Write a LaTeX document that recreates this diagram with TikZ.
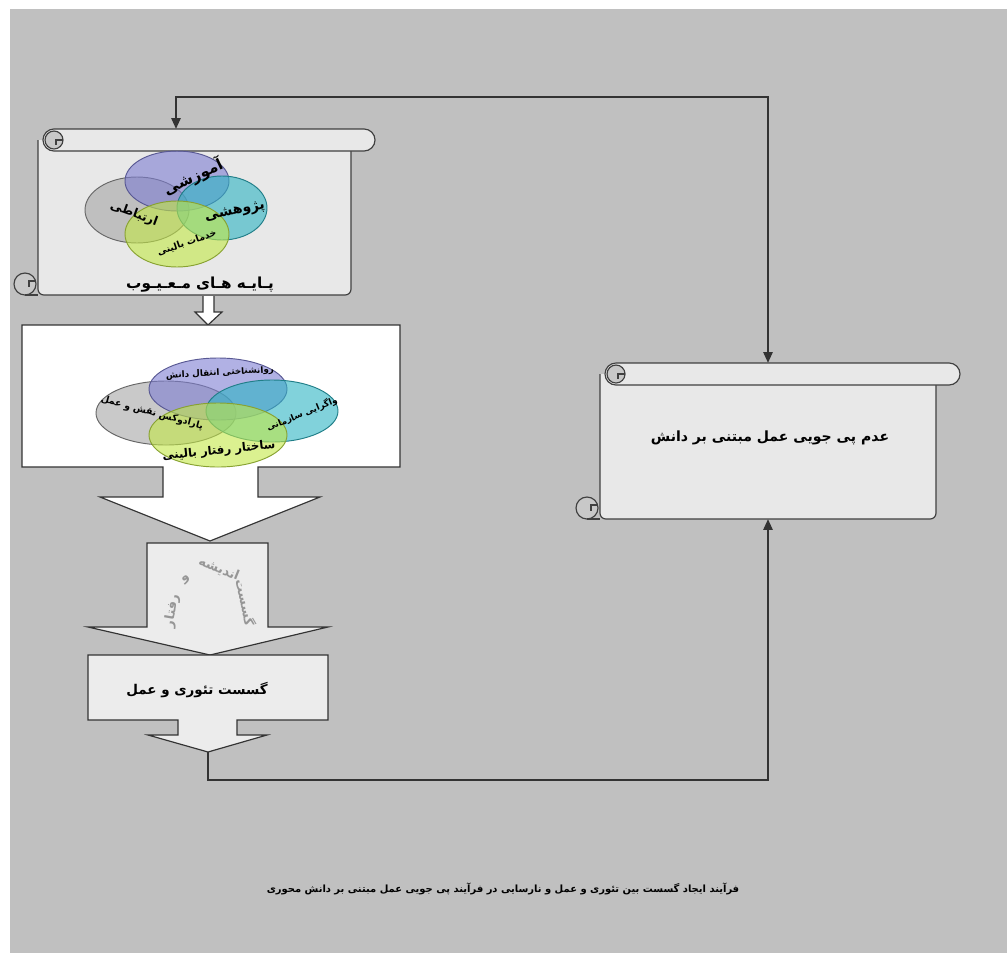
\documentclass[tikz,border=0pt]{standalone}
\usepackage{fontspec}
\usetikzlibrary{positioning,arrows.meta,fit}
\TeXXeTstate=1
\newfontfamily\fafont[Script=Arabic]{DejaVu Sans}

\definecolor{pagegray}{RGB}{192,192,192}
\definecolor{scrollfill}{RGB}{232,232,232}
\definecolor{curlfill}{RGB}{200,200,200}
\definecolor{arrowfill}{RGB}{236,236,236}
\definecolor{vpurple}{RGB}{125,125,210}
\definecolor{vteal}{RGB}{45,180,195}
\definecolor{vgray}{RGB}{165,165,165}
\definecolor{vgreen}{RGB}{195,232,70}
\definecolor{faded}{RGB}{150,150,150}

\newcommand{\fa}[1]{\fafont\bfseries\beginR #1\endR}

% scroll: left and top of the roll, right end of the roll, bottom of the sheet
\newcommand{\scrollbox}[4]{%
  \filldraw[scrolledge, fill=scrollfill, rounded corners=5pt]
    ({#1-5},{#2+11}) -- ({#1-5},{#4}) -- ({#3-24},{#4}) -- ({#3-24},{#2+11});
  \filldraw[scrolledge, fill=curlfill] ({#1-18},{#4-11}) circle[radius=11];
  \draw[scrolledge] ({#1-18},{#4}) -- ({#1-5},{#4});
  \draw[scrolledge] ({#1-7},{#4-14}) -- ({#1-14},{#4-14}) -- ({#1-14},{#4-8});
  \filldraw[scrolledge, fill=scrollfill, rounded corners=11*0.85pt]
    (#1,#2) rectangle (#3,{#2+22});
  \filldraw[scrolledge, fill=curlfill] ({#1+11},{#2+11}) circle[radius=9];
  \draw[scrolledge] ({#1+20},{#2+11}) -- ({#1+13},{#2+11}) -- ({#1+13},{#2+16});
}

\begin{document}
\begin{tikzpicture}[
  x=0.3mm, y=-0.3mm,
  scrolledge/.style = {draw=black!75, line width=1pt},
  blockarrow/.style = {draw=black!80, line width=1pt},
  venn/.style = {line width=0.8pt, fill opacity=0.6},
  fatext/.style = {inner sep=0pt, text=black},
  hold/.style = {inner sep=0pt, draw=none},
  link/.style = {draw=black!80, line width=1pt}
  ]
  \useasboundingbox (0,0) rectangle (1007,953);
  \fill[white] (0,0) rectangle (1007,953);
  \fill[pagegray] (10,9) rectangle (1007,953);

  % left scroll, four pillars
  \scrollbox{43}{129}{375}{295}
  \node[hold, fit={(38,129) (375,295)}] (payeh) {};
  \fill[vgray, venn, draw=black!60] (137,210) ellipse[x radius=52, y radius=33];
  \fill[vpurple, venn, draw=vpurple!70!black] (177,181) ellipse[x radius=52, y radius=30];
  \fill[vteal, venn, draw=vteal!70!black] (222,208) ellipse[x radius=45, y radius=32];
  \fill[vgreen, venn, draw=vgreen!70!black] (177,234) ellipse[x radius=52, y radius=33];
  \node[fatext, rotate=25] (amuzesh) at (193,177) {\fontsize{13}{14}\selectfont\fa{آموزشی}};
  \node[fatext, rotate=-20] (ertebat) at (134,214) {\fontsize{10.5}{11}\selectfont\fa{ارتباطی}};
  \node[fatext, rotate=12] (pajuhesh) at (235,212) {\fontsize{12}{13}\selectfont\fa{پژوهشی}};
  \node[fatext, rotate=19] (khadamat) at (187,243) {\fontsize{8}{9}\selectfont\fa{خدمات بالینی}};
  \node[fatext] (mayub) at (200,285) {\fontsize{13}{14}\selectfont\fa{پـایـه هـای مـعـیـوب}};

  % small arrow down
  \filldraw[blockarrow, fill=white] (203,296) -- (203,312) -- (195,312) -- (208,325)
    -- (222,312) -- (214,312) -- (214,296);

  % white box with its arrow
  \filldraw[blockarrow, fill=white] (22,325) -- (400,325) -- (400,467) -- (258,467)
    -- (258,497) -- (320,497) -- (210,541) -- (100,497) -- (163,497) -- (163,467)
    -- (22,467) -- cycle;
  \node[hold, fit={(22,325) (400,467)}] (ravan) {};
  \fill[vgray, venn, draw=black!60] (166,413) ellipse[x radius=70, y radius=32];
  \fill[vpurple, venn, draw=vpurple!70!black] (218,389) ellipse[x radius=69, y radius=31];
  \fill[vteal, venn, draw=vteal!70!black] (272,411) ellipse[x radius=66, y radius=31];
  \fill[vgreen, venn, draw=vgreen!70!black] (218,435) ellipse[x radius=69, y radius=32];
  \node[fatext, rotate=3] (enteghal) at (220,373) {\fontsize{7.5}{8}\selectfont\fa{روانشناختی انتقال دانش}};
  \node[fatext, rotate=-15] (paradox) at (152,413) {\fontsize{8}{9}\selectfont\fa{پارادوکس نقش و عمل}};
  \node[fatext, rotate=22] (vagarai) at (302,414) {\fontsize{7.5}{8}\selectfont\fa{واگرایی سازمانی}};
  \node[fatext, rotate=6] (sakhtar) at (219,451) {\fontsize{10}{11}\selectfont\fa{ساختار رفتار بالینی}};

  % grey arrow
  \filldraw[blockarrow, fill=arrowfill] (147,543) -- (268,543) -- (268,627) -- (328,627)
    -- (210,655) -- (88,627) -- (147,627) -- cycle;
  \node[fatext, text=faded, rotate=-78] (w1) at (246,602) {\fontsize{11}{12}\selectfont\fa{گسست}};
  \node[fatext, text=faded, rotate=-22] (w2) at (219,569) {\fontsize{11}{12}\selectfont\fa{اندیشه}};
  \node[fatext, text=faded, rotate=40] (w3) at (186,580) {\fontsize{11}{12}\selectfont\fa{و}};
  \node[fatext, text=faded, rotate=80] (w4) at (172,611) {\fontsize{11}{12}\selectfont\fa{رفتار}};

  % callout
  \filldraw[blockarrow, fill=arrowfill] (88,655) -- (328,655) -- (328,720) -- (237,720)
    -- (237,735) -- (267,735) -- (208,752) -- (148,735) -- (178,735) -- (178,720)
    -- (88,720) -- cycle;
  \coordinate (gtip) at (208,752);
  \node[fatext] (gosast) at (197,690) {\fontsize{11.5}{13}\selectfont\fa{گسست تئوری و عمل}};

  % right scroll
  \scrollbox{605}{363}{960}{519}
  \node[hold, fit={(600,363) (960,519)}] (adam) {};
  \node[fatext] (peygiri) at (770,438) {\fontsize{12}{13}\selectfont\fa{عدم پی جویی عمل مبتنی بر دانش}};

  % connectors
  \coordinate (c1) at (176,97);
  \coordinate (c2) at (768,97);
  \coordinate (c3) at (208,780);
  \coordinate (c4) at (768,780);
  \draw[link, {Triangle[length=9pt, width=8pt]}-{Triangle[length=9pt, width=8pt]}]
    (payeh.north -| c1) -- (c1) -- (c2) -- (adam.north -| c2);
  \draw[link, -{Triangle[length=9pt, width=8pt]}] (gtip) -- (c3) -- (c4) -- (adam.south -| c4);

  % caption
  \node[fatext] (caption) at (503,889) {\fontsize{8.5}{10}\selectfont\fa{فرآیند ایجاد گسست بین تئوری و عمل و نارسایی در فرآیند پی جویی عمل مبتنی بر دانش محوری}};
\end{tikzpicture}
\end{document}
